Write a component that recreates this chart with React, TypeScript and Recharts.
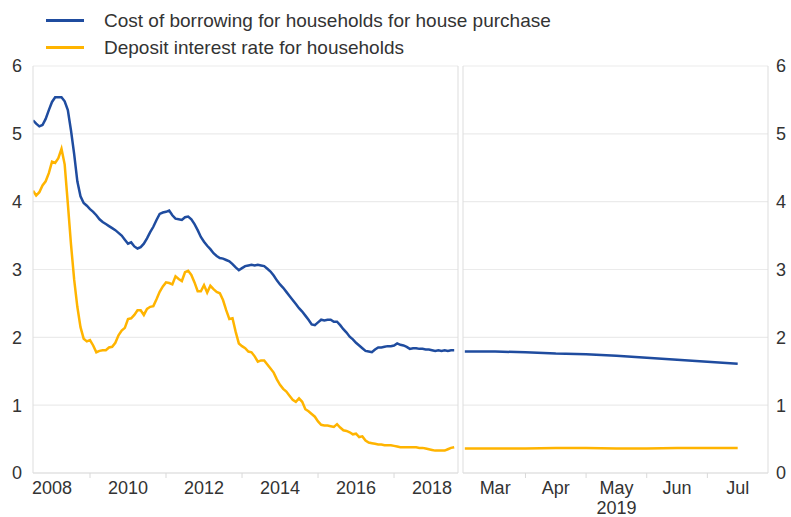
import React from "react";
import { LineChart, Line, XAxis, YAxis, CartesianGrid, ReferenceLine } from "recharts";

// Monthly series, Jan 2008 – Feb 2019 (percent per annum)
const borrowingRate: number[] = [
  5.20, 5.15, 5.11, 5.13, 5.22, 5.35, 5.47, 5.54, 5.54, 5.54, 5.48, 5.35,
  5.05, 4.70, 4.30, 4.08, 3.98, 3.94, 3.89, 3.85, 3.80, 3.74, 3.70, 3.67,
  3.64, 3.61, 3.58, 3.54, 3.50, 3.44, 3.38, 3.40, 3.34, 3.31, 3.33, 3.38,
  3.46, 3.55, 3.63, 3.73, 3.82, 3.84, 3.85, 3.87, 3.80, 3.75, 3.74, 3.73,
  3.77, 3.78, 3.74, 3.67, 3.58, 3.48, 3.41, 3.35, 3.30, 3.24, 3.20, 3.17,
  3.16, 3.14, 3.12, 3.08, 3.03, 2.99, 3.02, 3.05, 3.06, 3.07, 3.06, 3.07,
  3.06, 3.05, 3.01, 2.97, 2.91, 2.84, 2.78, 2.73, 2.67, 2.61, 2.55, 2.49,
  2.43, 2.38, 2.32, 2.26, 2.19, 2.18, 2.22, 2.26, 2.25, 2.26, 2.26, 2.23,
  2.23, 2.18, 2.12, 2.07, 2.01, 1.97, 1.92, 1.88, 1.84, 1.80, 1.79, 1.78,
  1.82, 1.85, 1.85, 1.86, 1.87, 1.87, 1.88, 1.91, 1.89, 1.88, 1.86, 1.83,
  1.84, 1.84, 1.83, 1.83, 1.82, 1.82, 1.81, 1.80, 1.81, 1.80, 1.81, 1.80,
  1.81, 1.81,
];

const depositRate: number[] = [
  4.16, 4.09, 4.14, 4.24, 4.30, 4.42, 4.59, 4.57, 4.64, 4.78, 4.55, 3.97,
  3.37, 2.85, 2.45, 2.15, 1.98, 1.94, 1.96, 1.88, 1.78, 1.80, 1.81, 1.81,
  1.85, 1.86, 1.92, 2.03, 2.10, 2.14, 2.27, 2.28, 2.33, 2.40, 2.40, 2.33,
  2.42, 2.45, 2.46, 2.56, 2.67, 2.75, 2.81, 2.80, 2.78, 2.90, 2.86, 2.83,
  2.96, 2.98, 2.92, 2.81, 2.68, 2.68, 2.77, 2.66, 2.76, 2.71, 2.67, 2.65,
  2.55, 2.40, 2.27, 2.28, 2.08, 1.91, 1.87, 1.84, 1.79, 1.78, 1.72, 1.64,
  1.66, 1.66, 1.60, 1.54, 1.48, 1.38, 1.30, 1.24, 1.20, 1.14, 1.08, 1.05,
  1.10, 1.05, 0.94, 0.91, 0.87, 0.83, 0.76, 0.71, 0.70, 0.70, 0.69, 0.68,
  0.72, 0.67, 0.63, 0.62, 0.60, 0.57, 0.58, 0.53, 0.54, 0.48, 0.45, 0.44,
  0.43, 0.42, 0.42, 0.41, 0.41, 0.41, 0.40, 0.39, 0.38, 0.38, 0.38, 0.38,
  0.38, 0.38, 0.37, 0.37, 0.36, 0.35, 0.34, 0.33, 0.33, 0.33, 0.33, 0.35,
  0.37, 0.38,
];

// Recent period 2019 (position in months: 3 = Mar ... 7 = Jul)
const recentMonthPos: number[] = [2.5, 3, 3.5, 4, 4.5, 5, 5.5, 6, 6.5, 7];
const recentBorrowing: number[] = [1.79, 1.79, 1.78, 1.76, 1.75, 1.73, 1.70, 1.67, 1.64, 1.61];
const recentDeposit: number[] = [0.36, 0.36, 0.36, 0.37, 0.37, 0.36, 0.36, 0.37, 0.37, 0.37];

const years: number[] = [2008, 2009, 2010, 2011, 2012, 2013, 2014, 2015, 2016, 2017, 2018];
const recentMonthTicks: number[] = [3, 3.5, 4, 4.5, 5, 5.5, 6, 6.5, 7];
const monthNames: Record<number, string> = { 3: "Mar", 4: "Apr", 5: "May", 6: "Jun", 7: "Jul" };
const yTicks: number[] = [0, 1, 2, 3, 4, 5, 6];

const seriesNames = [
  "Cost of borrowing for households for house purchase",
  "Deposit interest rate for households",
];

const BLUE = "#1f4c9f";
const YELLOW = "#ffb400";
const TEXT = "#333333";
const GRID = "#ebebeb";
const FONT = "'Liberation Sans', Arial, Helvetica, sans-serif";

const mainData = borrowingRate.map((v, i) => ({ m: i, b: v, d: depositRate[i] }));
const recentData = recentMonthPos.map((t, i) => ({ t, b: recentBorrowing[i], d: recentDeposit[i] }));
const yearTicks = years.map((y) => (y - 2008) * 12 + 6);

const YearTick = (props: any) => {
  const { x, y, payload } = props;
  const year = 2008 + Math.round((payload.value - 6) / 12);
  if (year % 2 === 1) {
    return <line x1={x} x2={x} y1={y - 8} y2={y - 3} stroke="#d9d9d9" strokeWidth={1} />;
  }
  return (
    <text x={x} y={y} dy="0.71em" textAnchor="middle" fill={TEXT} fontSize={18} fontFamily={FONT}>
      {year}
    </text>
  );
};

const MonthTick = (props: any) => {
  const { x, y, payload } = props;
  const v = payload.value;
  if (!Number.isInteger(v)) {
    return <line x1={x} x2={x} y1={y - 8} y2={y - 3} stroke="#d9d9d9" strokeWidth={1} />;
  }
  return (
    <g>
      <text x={x} y={y} dy="0.71em" textAnchor="middle" fill={TEXT} fontSize={18} fontFamily={FONT}>
        {monthNames[v]}
      </text>
      {v === 5 && (
        <text x={x} y={y + 20} dy="0.71em" textAnchor="middle" fill={TEXT} fontSize={18} fontFamily={FONT}>
          2019
        </text>
      )}
    </g>
  );
};

export default function App() {
  return (
    <div style={{ position: "fixed", left: 0, top: 0, width: 791, height: 517, background: "#fff", fontFamily: FONT }}>
      {/* Legend */}
      <div style={{ position: "absolute", left: 0, top: 0 }}>
        {[BLUE, YELLOW].map((c, i) => (
          <div key={i} style={{ position: "absolute", left: 46, top: 21 + i * 27 - 12, width: 700, height: 24 }}>
            <div style={{ position: "absolute", left: 0, top: 10, width: 38, height: 3, background: c }} />
            <div style={{ position: "absolute", left: 58, top: 0, fontSize: 19, color: TEXT, lineHeight: "24px", whiteSpace: "nowrap" }}>
              {seriesNames[i]}
            </div>
          </div>
        ))}
      </div>

      {/* Left panel: monthly history */}
      <div style={{ position: "absolute", left: 0, top: 0 }}>
        <LineChart width={460} height={517} data={mainData} margin={{ top: 66, right: 2, bottom: 14, left: 0 }}>
          <CartesianGrid vertical={false} stroke={GRID} strokeWidth={1.2} />
          <XAxis
            type="number"
            dataKey="m"
            domain={[0, 134.2]}
            ticks={yearTicks}
            interval={0}
            height={30}
            tick={<YearTick />}
            tickLine={false}
            tickSize={5}
            tickMargin={3}
            axisLine={{ stroke: "#dddddd" }}
            allowDataOverflow
          />
          <YAxis
            type="number"
            domain={[0, 6]}
            ticks={yTicks}
            width={33}
            tickSize={0}
            tickMargin={11}
            tickLine={false}
            axisLine={{ stroke: "#dddddd" }}
            tick={{ fill: TEXT, fontSize: 18, fontFamily: FONT }}
          />
          <ReferenceLine x={134.2} stroke="#dddddd" />
          <Line type="linear" dataKey="d" stroke={YELLOW} strokeWidth={2.5} dot={false} isAnimationActive={false} />
          <Line type="linear" dataKey="b" stroke={BLUE} strokeWidth={2.5} dot={false} isAnimationActive={false} />
        </LineChart>
      </div>

      {/* Right panel: 2019 */}
      <div style={{ position: "absolute", left: 460, top: 0 }}>
        <LineChart width={331} height={517} data={recentData} margin={{ top: 66, right: 0, bottom: 14, left: 3 }}>
          <CartesianGrid vertical={false} stroke={GRID} strokeWidth={1.2} />
          <XAxis
            type="number"
            dataKey="t"
            domain={[2.47, 7.5]}
            ticks={recentMonthTicks}
            interval={0}
            height={30}
            tick={<MonthTick />}
            tickLine={false}
            tickSize={5}
            tickMargin={3}
            axisLine={{ stroke: "#dddddd" }}
            allowDataOverflow
          />
          <YAxis
            orientation="right"
            type="number"
            domain={[0, 6]}
            ticks={yTicks}
            width={23}
            tickSize={0}
            tickMargin={8}
            tickLine={false}
            axisLine={{ stroke: "#dddddd" }}
            tick={{ fill: TEXT, fontSize: 18, fontFamily: FONT, textAnchor: "start" }}
          />
          <ReferenceLine x={2.47} stroke="#dddddd" />
          <Line type="linear" dataKey="d" stroke={YELLOW} strokeWidth={2.5} dot={false} isAnimationActive={false} />
          <Line type="linear" dataKey="b" stroke={BLUE} strokeWidth={2.5} dot={false} isAnimationActive={false} />
        </LineChart>
      </div>
    </div>
  );
}
